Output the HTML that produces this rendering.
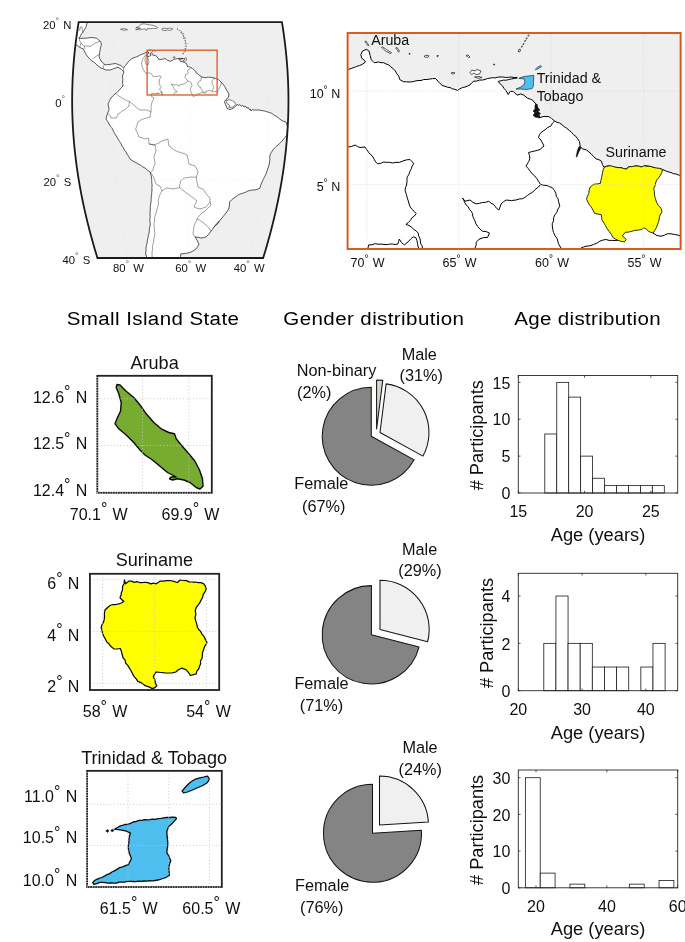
<!DOCTYPE html>
<html><head><meta charset="utf-8"><title>figure</title>
<style>
html,body{margin:0;padding:0;background:#fff;overflow:hidden;}
svg{display:block;font-family:"Liberation Sans", sans-serif;will-change:transform;}
</style></head>
<body>
<svg width="685" height="942" viewBox="0 0 685 942">
<rect width="685" height="942" fill="#fff"/>
<defs><clipPath id="cf"><path d="M78.67,22.04 L78.04,25.97 L77.44,29.91 L76.87,33.84 L76.33,37.77 L75.83,41.71 L75.36,45.64 L74.91,49.57 L74.51,53.50 L74.13,57.44 L73.79,61.37 L73.47,65.30 L73.20,69.24 L72.95,73.17 L72.73,77.10 L72.55,81.03 L72.41,84.97 L72.29,88.90 L72.21,92.83 L72.16,96.77 L72.14,100.70 L72.16,104.63 L72.21,108.57 L72.29,112.50 L72.41,116.43 L72.55,120.37 L72.73,124.30 L72.95,128.23 L73.20,132.16 L73.47,136.10 L73.79,140.03 L74.13,143.96 L74.51,147.90 L74.91,151.83 L75.36,155.76 L75.83,159.69 L76.33,163.63 L76.87,167.56 L77.44,171.49 L78.04,175.43 L78.67,179.36 L79.33,183.29 L80.02,187.23 L80.74,191.16 L81.49,195.09 L82.28,199.02 L83.09,202.96 L83.93,206.89 L84.80,210.82 L85.70,214.76 L86.63,218.69 L87.59,222.62 L88.58,226.56 L89.59,230.49 L90.63,234.42 L91.70,238.36 L92.80,242.29 L93.92,246.22 L95.07,250.15 L96.25,254.09 L97.45,258.02 L263.15,258.02 L264.35,254.09 L265.53,250.15 L266.68,246.22 L267.80,242.29 L268.90,238.36 L269.97,234.42 L271.01,230.49 L272.02,226.56 L273.01,222.62 L273.97,218.69 L274.90,214.76 L275.80,210.82 L276.67,206.89 L277.51,202.96 L278.32,199.02 L279.11,195.09 L279.86,191.16 L280.58,187.23 L281.27,183.29 L281.93,179.36 L282.56,175.43 L283.16,171.49 L283.73,167.56 L284.27,163.63 L284.77,159.69 L285.24,155.76 L285.69,151.83 L286.09,147.90 L286.47,143.96 L286.81,140.03 L287.13,136.10 L287.40,132.16 L287.65,128.23 L287.87,124.30 L288.05,120.37 L288.19,116.43 L288.31,112.50 L288.39,108.57 L288.44,104.63 L288.46,100.70 L288.44,96.77 L288.39,92.83 L288.31,88.90 L288.19,84.97 L288.05,81.03 L287.87,77.10 L287.65,73.17 L287.40,69.24 L287.13,65.30 L286.81,61.37 L286.47,57.44 L286.09,53.50 L285.69,49.57 L285.24,45.64 L284.77,41.71 L284.27,37.77 L283.73,33.84 L283.16,29.91 L282.56,25.97 L281.93,22.04Z"/></clipPath></defs>
<path d="M78.67,22.04 L78.04,25.97 L77.44,29.91 L76.87,33.84 L76.33,37.77 L75.83,41.71 L75.36,45.64 L74.91,49.57 L74.51,53.50 L74.13,57.44 L73.79,61.37 L73.47,65.30 L73.20,69.24 L72.95,73.17 L72.73,77.10 L72.55,81.03 L72.41,84.97 L72.29,88.90 L72.21,92.83 L72.16,96.77 L72.14,100.70 L72.16,104.63 L72.21,108.57 L72.29,112.50 L72.41,116.43 L72.55,120.37 L72.73,124.30 L72.95,128.23 L73.20,132.16 L73.47,136.10 L73.79,140.03 L74.13,143.96 L74.51,147.90 L74.91,151.83 L75.36,155.76 L75.83,159.69 L76.33,163.63 L76.87,167.56 L77.44,171.49 L78.04,175.43 L78.67,179.36 L79.33,183.29 L80.02,187.23 L80.74,191.16 L81.49,195.09 L82.28,199.02 L83.09,202.96 L83.93,206.89 L84.80,210.82 L85.70,214.76 L86.63,218.69 L87.59,222.62 L88.58,226.56 L89.59,230.49 L90.63,234.42 L91.70,238.36 L92.80,242.29 L93.92,246.22 L95.07,250.15 L96.25,254.09 L97.45,258.02 L263.15,258.02 L264.35,254.09 L265.53,250.15 L266.68,246.22 L267.80,242.29 L268.90,238.36 L269.97,234.42 L271.01,230.49 L272.02,226.56 L273.01,222.62 L273.97,218.69 L274.90,214.76 L275.80,210.82 L276.67,206.89 L277.51,202.96 L278.32,199.02 L279.11,195.09 L279.86,191.16 L280.58,187.23 L281.27,183.29 L281.93,179.36 L282.56,175.43 L283.16,171.49 L283.73,167.56 L284.27,163.63 L284.77,159.69 L285.24,155.76 L285.69,151.83 L286.09,147.90 L286.47,143.96 L286.81,140.03 L287.13,136.10 L287.40,132.16 L287.65,128.23 L287.87,124.30 L288.05,120.37 L288.19,116.43 L288.31,112.50 L288.39,108.57 L288.44,104.63 L288.46,100.70 L288.44,96.77 L288.39,92.83 L288.31,88.90 L288.19,84.97 L288.05,81.03 L287.87,77.10 L287.65,73.17 L287.40,69.24 L287.13,65.30 L286.81,61.37 L286.47,57.44 L286.09,53.50 L285.69,49.57 L285.24,45.64 L284.77,41.71 L284.27,37.77 L283.73,33.84 L283.16,29.91 L282.56,25.97 L281.93,22.04Z" fill="#efefef"/>
<g clip-path="url(#cf)">
<path d="M87.5,19.0 L87.1,22.5 L86.5,25.1 L85.8,27.6 L84.2,30.1 L82.7,32.6 L81.2,34.4 L80.2,36.5 L78.9,38.4 L82.1,38.3 L85.2,38.2 L87.7,38.0 L90.2,37.6 L93.4,37.7 L96.5,38.2 L98.4,39.8 L100.3,41.4 L101.5,43.9 L100.9,46.4 L100.2,49.5 L99.7,52.7 L99.0,56.0 L99.8,58.6 L101.0,61.0 L103.2,62.8 L105.0,65.0 L107.5,64.6 L110.0,64.4 L113.0,63.8 L116.0,63.6 L118.4,64.7 L121.0,65.5 L123.6,68.0 L125.0,66.0 L126.6,64.1 L128.0,62.0 L130.3,59.8 L133.0,58.0 L135.4,57.3 L137.8,56.3 L140.0,55.0 L142.5,54.1 L145.0,53.0 L148.0,51.6 L148.8,53.0 L146.6,55.2 L147.6,56.8 L149.3,56.2 L150.5,55.7 L151.1,55.3 L151.0,54.9 L150.4,54.5 L150.2,53.7 L150.6,53.0 L151.4,52.6 L152.0,53.0 L152.1,53.9 L152.4,54.8 L153.0,55.4 L153.9,55.3 L155.0,55.4 L156.0,55.9 L156.9,56.7 L157.6,57.7 L157.8,58.0 L158.0,58.1 L158.2,58.9 L159.0,59.4 L160.2,59.5 L162.1,59.2 L163.9,58.9 L165.7,58.7 L166.3,59.4 L167.1,60.2 L167.7,60.4 L169.3,60.9 L170.3,61.3 L171.4,60.6 L173.0,60.1 L173.8,59.3 L175.6,59.1 L177.2,58.7 L179.8,58.4 L182.8,58.5 L182.9,58.7 L181.1,58.9 L178.9,59.3 L179.8,60.3 L180.5,61.2 L181.0,62.1 L181.4,61.5 L182.1,61.5 L182.9,62.3 L183.7,62.0 L184.3,62.3 L185.1,62.9 L186.2,63.3 L186.8,64.1 L187.2,65.8 L187.7,66.9 L188.6,66.7 L189.6,66.8 L190.8,67.7 L192.4,68.4 L193.9,69.7 L195.3,70.9 L196.1,72.0 L196.2,73.1 L196.7,73.5 L197.7,73.8 L198.6,74.6 L199.7,75.7 L200.8,76.1 L201.4,77.4 L202.5,77.1 L204.3,77.5 L206.2,77.8 L206.5,77.4 L208.7,77.2 L209.3,77.4 L209.9,77.1 L211.8,77.4 L213.8,77.9 L215.6,78.5 L217.2,79.1 L218.2,79.3 L220.0,81.2 L222.0,83.0 L223.5,84.9 L224.9,86.8 L226.0,89.0 L227.5,91.5 L229.0,94.0 L228.4,97.5 L226.0,99.5 L224.4,101.6 L225.5,104.5 L227.0,108.4 L230.0,109.6 L233.0,108.4 L235.8,106.2 L237.0,104.3 L238.6,105.6 L239.8,104.5 L241.2,106.3 L242.6,105.2 L244.0,107.0 L245.6,106.2 L246.8,108.2 L248.4,107.6 L249.4,109.8 L250.4,109.0 L251.0,111.0 L252.4,109.8 L256.0,110.0 L259.0,110.0 L262.0,110.6 L264.4,111.0 L266.7,111.7 L269.0,112.4 L271.5,113.3 L273.7,114.8 L276.0,116.0 L278.5,118.0 L281.0,120.0 L283.4,121.2 L286.0,122.0 L286.8,124.5 L287.6,127.0 L287.3,129.7 L287.2,132.3 L287.0,135.0 L284.9,137.4 L283.0,140.0 L281.4,141.7 L279.8,143.4 L278.0,145.0 L276.1,146.5 L274.5,148.1 L273.0,150.0 L271.3,152.4 L270.0,155.0 L269.7,157.3 L269.8,159.7 L269.6,162.0 L269.0,165.0 L268.0,168.0 L267.1,170.7 L266.2,173.4 L265.0,176.0 L263.9,177.9 L263.1,180.0 L262.0,182.0 L260.8,184.9 L260.0,188.0 L257.0,189.5 L254.8,189.9 L252.5,190.0 L250.2,190.4 L248.0,191.0 L245.4,192.3 L242.7,193.2 L240.0,194.0 L237.9,195.1 L236.0,196.7 L234.0,198.0 L231.6,199.8 L229.6,202.0 L229.4,205.0 L229.0,208.0 L227.7,210.6 L226.0,213.0 L223.9,215.5 L222.0,218.0 L219.9,220.4 L218.0,223.0 L216.1,225.1 L214.0,227.0 L212.7,229.1 L211.0,231.0 L209.0,234.0 L206.0,237.0 L203.5,237.6 L201.0,238.0 L198.0,237.2 L195.0,237.0 L197.0,240.0 L197.9,242.1 L199.0,244.0 L197.7,246.6 L196.0,249.0 L193.6,250.6 L191.0,252.0 L188.7,252.8 L186.4,253.3 L184.0,253.6 L180.6,254.0 L180.6,256.0 L180.0,258.0 L180.0,262.0 L177.6,261.8 L175.3,262.2 L172.9,262.0 L170.6,262.0 L168.2,262.2 L165.9,261.9 L163.5,262.2 L161.1,261.9 L158.8,262.2 L156.4,262.0 L154.1,262.2 L151.7,262.1 L149.4,261.7 L147.0,262.0 L147.0,258.0 L145.6,254.0 L146.0,251.0 L146.0,248.0 L146.4,245.5 L147.2,243.0 L147.3,240.5 L148.0,238.0 L148.3,235.6 L149.0,233.2 L149.3,230.8 L149.4,228.4 L150.0,226.0 L150.3,223.6 L149.8,221.2 L149.9,218.8 L150.2,216.4 L150.0,214.0 L150.1,211.6 L150.3,209.2 L150.3,206.8 L150.6,204.4 L151.0,202.0 L151.2,199.6 L151.2,197.2 L151.7,194.8 L151.7,192.4 L152.0,190.0 L151.9,187.6 L152.1,185.2 L151.8,182.8 L151.7,180.4 L151.6,178.0 L151.0,174.9 L150.0,172.0 L147.4,170.1 L145.0,168.0 L142.6,166.8 L140.5,165.1 L138.0,164.0 L136.1,162.6 L133.9,161.6 L131.9,160.4 L130.0,159.0 L128.6,156.4 L127.0,154.0 L126.0,151.9 L124.3,150.1 L123.5,147.9 L122.0,146.0 L121.0,143.6 L119.6,141.5 L118.2,139.3 L117.0,137.0 L115.5,134.8 L114.1,132.5 L113.0,130.0 L111.9,127.8 L110.2,126.1 L109.0,124.0 L107.6,121.4 L106.0,119.0 L107.0,115.0 L107.9,112.4 L109.0,110.0 L108.7,107.0 L108.0,104.0 L109.1,102.0 L109.9,99.9 L111.0,98.0 L112.9,95.9 L115.0,94.0 L117.1,92.3 L119.0,90.5 L120.8,88.1 L123.0,86.0 L122.7,83.5 L122.7,81.0 L122.8,78.5 L122.4,76.0 L124.0,72.0 L121.5,69.5 L118.0,67.2 L114.0,68.5 L110.0,70.0 L106.0,70.0 L103.5,68.9 L101.0,68.0 L98.9,66.6 L97.0,65.0 L94.7,62.8 L92.0,61.0 L89.9,59.1 L88.0,57.0 L86.4,55.0 L85.2,52.7 L83.3,48.9 L80.7,47.8 L78.3,46.4 L75.8,44.5 L73.2,44.4 L70.6,44.4 L68.0,44.0 L67.8,41.7 L67.9,39.5 L68.0,37.2 L67.8,34.9 L67.9,32.6 L68.2,30.4 L68.3,28.1 L68.1,25.8 L68.1,23.5 L68.1,21.3 L68.0,19.0 L70.4,18.8 L72.9,18.7 L75.3,18.7 L77.8,19.2 L80.2,19.1 L82.6,19.3 L85.1,18.7Z" fill="#fff" stroke="#000" stroke-width="0.65" stroke-linejoin="round"/>
<path d="M120.5,29.2 L124.0,28.6 L127.5,29.6 L124.0,30.4Z" fill="#fff" stroke="#111" stroke-width="0.5"/>
<path d="M135.8,27.6 L139.0,26.6 L141.0,24.2 L144.0,23.8 L147.5,24.6 L152.0,25.2 L155.0,26.0 L157.6,27.6 L156.0,28.6 L153.0,28.2 L150.0,28.8 L147.4,28.4 L146.4,30.6 L145.2,28.8 L142.0,29.2 L139.5,29.8 L135.6,29.6 L138.4,28.6 L140.6,28.2Z" fill="#fff" stroke="#111" stroke-width="0.5"/>
<path d="M162.0,28.9 L164.0,28.2 L167.0,28.6 L169.5,28.2 L172.4,28.4 L172.6,29.4 L170.0,30.4 L167.5,30.0 L165.0,30.6 L162.2,30.0Z" fill="#fff" stroke="#111" stroke-width="0.5"/>
<path d="M183.3,58.6 L184.3,58.3 L186.4,58.1 L186.3,59.1 L186.3,60.4 L186.0,60.9 L184.8,61.1 L183.7,61.0 L182.6,61.0 L183.7,60.5 L184.2,60.1 L184.5,59.5 L184.4,58.8 L183.3,58.7Z" fill="#fff" stroke="#111" stroke-width="0.5"/>
<path d="M226.0,100.6 L230.0,99.7 L234.6,102.0 L235.6,104.4 L233.0,107.0 L229.0,107.4 L229.6,105.0 L227.0,103.6Z" fill="#fff" stroke="#111" stroke-width="0.5"/>
<path d="M173.0,57.5 L173.4,56.9 L174.0,57.2 L174.5,56.8 L175.3,57.2 L175.0,57.8 L174.3,57.9 L173.8,57.6 L173.3,57.9Z" fill="#fff" stroke="#111" stroke-width="0.5"/>
<path d="M176.9,29.0 L177.4,28.5 L177.9,29.0 L177.4,29.5Z" fill="#fff" stroke="#111" stroke-width="0.5"/>
<path d="M179.1,30.6 L179.6,30.1 L180.1,30.6 L179.6,31.1Z" fill="#fff" stroke="#111" stroke-width="0.5"/>
<path d="M180.6,32.2 L181.2,31.6 L181.8,32.2 L181.2,32.8Z" fill="#fff" stroke="#111" stroke-width="0.5"/>
<path d="M181.7,33.8 L182.6,32.9 L183.5,33.8 L182.6,34.7Z" fill="#fff" stroke="#111" stroke-width="0.5"/>
<path d="M183.0,36.0 L183.6,35.4 L184.2,36.0 L183.6,36.6Z" fill="#fff" stroke="#111" stroke-width="0.5"/>
<path d="M183.4,38.2 L184.4,37.2 L185.4,38.2 L184.4,39.2Z" fill="#fff" stroke="#111" stroke-width="0.5"/>
<path d="M184.6,40.8 L185.2,40.2 L185.8,40.8 L185.2,41.4Z" fill="#fff" stroke="#111" stroke-width="0.5"/>
<path d="M184.9,43.4 L185.8,42.5 L186.7,43.4 L185.8,44.3Z" fill="#fff" stroke="#111" stroke-width="0.5"/>
<path d="M185.3,46.2 L185.9,45.6 L186.5,46.2 L185.9,46.8Z" fill="#fff" stroke="#111" stroke-width="0.5"/>
<path d="M184.7,49.0 L185.4,48.3 L186.1,49.0 L185.4,49.7Z" fill="#fff" stroke="#111" stroke-width="0.5"/>
<path d="M184.0,51.6 L184.6,51.0 L185.2,51.6 L184.6,52.2Z" fill="#fff" stroke="#111" stroke-width="0.5"/>
<path d="M182.6,53.6 L183.2,53.0 L183.8,53.6 L183.2,54.2Z" fill="#fff" stroke="#111" stroke-width="0.5"/>
<path d="M149.5,50.0 L150.0,49.5 L150.5,50.0 L150.0,50.5Z" fill="#fff" stroke="#111" stroke-width="0.5"/>
<path d="M151.9,51.0 L152.5,50.4 L153.1,51.0 L152.5,51.6Z" fill="#fff" stroke="#111" stroke-width="0.5"/>
<path d="M154.5,51.2 L155.0,50.7 L155.5,51.2 L155.0,51.7Z" fill="#fff" stroke="#111" stroke-width="0.5"/>
<path d="M146.6,73.2 L147.1,73.2 L148.6,72.7 L149.6,73.3 L150.7,73.2 L152.0,74.8 L153.3,76.7 L154.6,76.3 L156.4,76.5 L158.6,76.2 L160.2,75.8 L161.0,76.7 L160.1,78.3 L159.5,79.6 L159.4,81.2 L159.1,82.4 L159.5,83.9 L160.1,85.8 L161.4,87.2 L159.2,89.5 L160.4,90.1 L161.8,91.3 L162.3,93.5 L162.7,94.5 L162.8,95.1" fill="none" stroke="#2a2a2a" stroke-width="0.45" stroke-linejoin="round"/>
<path d="M162.0,95.1 L162.0,94.5 L161.7,93.5 L161.3,92.2 L160.7,92.1 L159.6,93.1 L158.9,93.8 L158.2,93.3 L157.8,92.5 L157.5,93.6 L155.1,93.7 L152.6,93.5 L151.2,93.8 L151.1,94.5 L151.0,95.1" fill="none" stroke="#2a2a2a" stroke-width="0.45" stroke-linejoin="round"/>
<path d="M173.9,95.1 L173.9,94.4 L174.2,93.3 L175.0,92.5 L176.6,92.2 L177.0,91.3 L175.5,90.9 L174.5,89.8 L173.7,88.3 L173.1,86.7 L172.1,85.4 L171.3,83.9 L171.8,84.6 L172.9,84.3 L174.2,85.1 L175.5,84.8 L176.9,84.6 L178.2,85.6 L179.0,86.4 L179.5,85.1 L180.6,84.3 L181.7,84.4 L182.7,84.3 L184.0,84.1 L185.6,83.0 L186.9,82.0 L187.9,81.1" fill="none" stroke="#2a2a2a" stroke-width="0.45" stroke-linejoin="round"/>
<path d="M190.8,67.7 L190.1,68.7 L188.8,69.5 L187.9,70.1 L187.4,71.2 L188.3,72.3 L188.6,73.0 L187.8,73.7 L186.6,74.0 L185.3,74.3 L185.6,75.6 L184.8,77.2 L186.1,78.8 L187.5,80.4 L187.9,81.1" fill="none" stroke="#2a2a2a" stroke-width="0.45" stroke-linejoin="round"/>
<path d="M187.9,81.1 L189.3,81.3 L190.4,81.7 L191.2,83.0 L191.7,84.6 L192.0,85.6 L190.9,87.5 L190.4,89.3 L190.7,91.2 L191.5,92.5 L191.7,93.5 L192.3,94.4 L192.5,95.1" fill="none" stroke="#2a2a2a" stroke-width="0.45" stroke-linejoin="round"/>
<path d="M196.3,95.1 L196.6,94.4 L197.6,94.1 L199.2,93.7 L200.6,93.0 L201.9,92.6 L203.2,92.8 L204.4,92.8" fill="none" stroke="#2a2a2a" stroke-width="0.45" stroke-linejoin="round"/>
<path d="M211.9,91.3 L212.8,91.8 L213.6,92.0 L214.9,91.4 L216.5,91.6 L217.9,92.0 L218.5,92.0" fill="none" stroke="#2a2a2a" stroke-width="0.45" stroke-linejoin="round"/>
<path d="M213.8,77.9 L213.3,79.1 L212.4,80.5 L212.0,81.9 L212.2,83.3 L212.6,84.8 L213.6,86.0 L213.8,86.8 L213.3,87.7 L213.1,88.8 L212.7,90.0 L211.9,91.3 L211.0,91.0 L210.0,90.2 L208.8,90.7 L207.2,91.0 L206.0,91.1 L205.4,91.9 L206.2,92.7 L205.8,93.1 L204.4,92.8 L203.3,92.2 L202.6,91.0 L201.8,89.7 L201.0,88.5 L200.8,87.4 L199.4,87.1 L199.0,86.2 L198.2,85.1 L197.7,84.2 L198.2,83.0 L198.5,81.6 L199.4,81.0 L200.6,80.8 L200.9,79.6 L201.1,78.5 L201.4,77.4" fill="none" stroke="#2a2a2a" stroke-width="0.45" stroke-linejoin="round"/>
<path d="M146.6,55.2 L145.2,58.0 L145.0,61.0 L146.0,64.5 L148.0,65.0 L149.0,61.5 L148.0,57.8 L146.8,56.6" fill="none" stroke="#2a2a2a" stroke-width="0.45" stroke-linejoin="round"/>
<path d="M147.4,52.3 L145.5,55.0 L143.0,58.5 L142.4,60.8 L141.5,63.0 L142.0,66.1 L143.0,69.0 L145.0,72.5 L147.0,74.3" fill="none" stroke="#2a2a2a" stroke-width="0.45" stroke-linejoin="round"/>
<path d="M151.6,95.3 L151.0,96.0 L154.0,98.0 L153.1,100.0 L152.0,102.0 L151.5,104.5 L151.0,107.0 L151.1,109.5 L151.0,112.0 L150.3,114.5 L150.0,117.0" fill="none" stroke="#2a2a2a" stroke-width="0.45" stroke-linejoin="round"/>
<path d="M116.0,93.5 L118.0,95.6 L120.0,96.7 L122.0,97.9 L124.0,99.0 L126.7,100.5 L129.6,101.6 L131.8,103.3 L133.9,105.1 L136.0,107.0 L137.9,108.6 L140.0,110.0 L142.3,110.0 L144.7,109.9 L147.0,110.0 L149.0,111.0 L151.0,112.0" fill="none" stroke="#2a2a2a" stroke-width="0.45" stroke-linejoin="round"/>
<path d="M129.6,101.6 L129.1,103.8 L129.0,106.0 L126.6,108.1 L124.0,110.0 L121.9,111.1 L120.1,112.8 L118.0,114.0 L116.4,118.0 L113.7,118.0 L111.0,118.0 L109.9,115.6 L108.5,113.5" fill="none" stroke="#2a2a2a" stroke-width="0.45" stroke-linejoin="round"/>
<path d="M150.0,117.0 L147.7,117.7 L145.4,118.4 L143.0,119.0 L140.4,120.3 L138.0,122.0 L137.2,124.3 L136.6,126.7 L135.6,129.0 L136.6,131.7 L138.1,134.2 L139.0,137.0 L142.1,137.8 L145.0,139.0 L148.4,138.0 L148.9,141.0 L149.0,144.0" fill="none" stroke="#2a2a2a" stroke-width="0.45" stroke-linejoin="round"/>
<path d="M149.0,144.0 L152.0,144.5 L155.0,145.0 L155.4,147.5 L156.0,150.0 L155.4,152.7 L154.4,155.3 L154.0,158.0 L154.8,161.0 L155.0,164.0 L153.7,166.9 L153.0,170.0 L150.5,172.5" fill="none" stroke="#2a2a2a" stroke-width="0.45" stroke-linejoin="round"/>
<path d="M149.0,144.0 L152.0,144.5 L155.0,145.0 L157.3,143.6 L159.8,142.5 L162.0,141.0 L165.0,140.0 L168.0,139.0 L168.3,141.3 L168.6,143.7 L169.0,146.0 L171.6,147.9 L174.0,150.0 L176.6,151.1 L179.3,152.2 L182.0,153.0 L184.6,153.8 L187.0,155.0 L187.5,157.3 L188.1,159.5 L188.4,161.8 L189.0,164.0 L192.0,165.1 L195.0,166.0 L196.2,167.9 L197.2,169.9 L198.0,172.0 L197.2,174.5 L196.4,177.0" fill="none" stroke="#2a2a2a" stroke-width="0.45" stroke-linejoin="round"/>
<path d="M196.4,177.0 L193.7,177.2 L191.0,177.0 L188.7,177.4 L186.4,177.8 L184.0,178.0 L182.3,179.5 L180.5,181.0 L180.3,183.2 L179.7,185.4 L179.6,187.6 L177.4,188.0 L175.2,188.4 L173.0,189.0 L170.7,188.4 L168.3,188.3 L166.0,188.0 L164.0,189.5 L162.0,191.0" fill="none" stroke="#2a2a2a" stroke-width="0.45" stroke-linejoin="round"/>
<path d="M150.5,172.5 L152.5,175.1 L154.0,178.0 L154.9,181.0 L156.0,184.0 L157.9,185.2 L160.0,186.0 L161.0,188.5 L162.0,191.0" fill="none" stroke="#2a2a2a" stroke-width="0.45" stroke-linejoin="round"/>
<path d="M162.0,191.0 L160.9,192.9 L159.8,194.9 L159.0,197.0 L158.6,199.2 L158.3,201.5 L158.5,203.8 L158.0,206.0 L157.2,208.5 L156.5,211.0 L155.9,213.5 L155.0,216.0 L154.5,218.5 L154.6,221.0 L154.0,223.5 L154.0,226.0 L154.4,228.7 L154.6,231.3 L155.0,234.0 L154.3,236.5 L153.8,239.0 L153.8,241.6 L153.0,244.0 L152.5,246.7 L152.6,249.4 L152.0,252.0 L152.1,254.7 L152.2,257.3 L152.0,260.0" fill="none" stroke="#2a2a2a" stroke-width="0.45" stroke-linejoin="round"/>
<path d="M179.6,187.6 L181.7,189.5 L184.0,191.0 L186.0,193.0 L188.1,194.2 L190.0,195.7 L192.0,197.0 L194.6,198.9 L197.0,201.0 L195.8,202.9 L194.9,204.9 L194.0,207.0 L196.9,208.2 L200.0,209.0 L203.0,208.0 L206.0,207.0 L208.1,204.6 L210.0,202.0" fill="none" stroke="#2a2a2a" stroke-width="0.45" stroke-linejoin="round"/>
<path d="M196.4,177.0 L196.5,179.5 L197.0,182.0 L197.6,184.5 L198.0,187.0 L200.0,188.0 L202.1,188.8 L204.0,190.0 L205.3,192.6 L207.0,195.0 L210.0,198.0 L210.0,202.0" fill="none" stroke="#2a2a2a" stroke-width="0.45" stroke-linejoin="round"/>
<path d="M210.0,202.0 L211.0,205.0 L209.4,206.7 L207.6,208.3 L206.0,210.0 L204.2,211.9 L201.8,213.1 L200.0,215.0 L198.4,216.9 L197.0,219.0" fill="none" stroke="#2a2a2a" stroke-width="0.45" stroke-linejoin="round"/>
<path d="M197.0,219.0 L199.5,220.1 L201.6,221.7 L204.0,223.0 L205.5,224.9 L207.4,226.3 L209.0,228.0 L211.0,231.0" fill="none" stroke="#2a2a2a" stroke-width="0.45" stroke-linejoin="round"/>
<path d="M197.0,219.0 L196.1,221.4 L195.0,223.7 L194.0,226.0 L193.6,228.7 L193.4,231.3 L193.0,234.0 L195.0,237.0" fill="none" stroke="#2a2a2a" stroke-width="0.45" stroke-linejoin="round"/>
<path d="M192.0,95.0 L193.5,96.8 L196.0,95.0" fill="none" stroke="#2a2a2a" stroke-width="0.45" stroke-linejoin="round"/>
<path d="M221.5,82.5 L220.8,84.8 L220.0,87.0 L218.8,89.0 L217.5,91.0" fill="none" stroke="#2a2a2a" stroke-width="0.45" stroke-linejoin="round"/>
<path d="M68.0,30.0 L70.4,29.9 L72.8,30.3 L75.2,29.8 L77.6,29.9 L80.0,30.0 L80.0,27.0 L82.0,27.0 L82.3,30.0 L82.5,33.0" fill="none" stroke="#2a2a2a" stroke-width="0.45" stroke-linejoin="round"/>
<path d="M79.0,38.6 L79.8,40.9 L81.0,43.0 L80.0,46.8" fill="none" stroke="#2a2a2a" stroke-width="0.45" stroke-linejoin="round"/>
<path d="M81.0,43.0 L84.0,46.0 L85.0,48.8" fill="none" stroke="#2a2a2a" stroke-width="0.45" stroke-linejoin="round"/>
<path d="M84.0,46.0 L87.1,46.0 L90.2,46.4 L92.3,45.1 L94.3,43.7 L96.5,42.6 L100.3,41.4" fill="none" stroke="#2a2a2a" stroke-width="0.45" stroke-linejoin="round"/>
<path d="M99.5,54.0 L97.4,55.6 L95.2,57.0 L93.0,58.5" fill="none" stroke="#2a2a2a" stroke-width="0.45" stroke-linejoin="round"/>
<path d="M104.0,64.2 L103.5,66.6 L103.0,69.0" fill="none" stroke="#2a2a2a" stroke-width="0.45" stroke-linejoin="round"/>
<path d="M123.6,68.0 L123.6,71.8" fill="none" stroke="#2a2a2a" stroke-width="0.45" stroke-linejoin="round"/>
<path d="M214.0,227.0 L216.0,223.5 L219.0,221.0 L218.5,223.0 L215.5,226.0" fill="none" stroke="#2a2a2a" stroke-width="0.45" stroke-linejoin="round"/>
<path d="M115.6,22.0 L115.2,26.0 L114.8,29.9 L114.5,33.8 L114.1,37.8 L113.8,41.7 L113.5,45.6 L113.2,49.6 L113.0,53.5 L112.7,57.4 L112.5,61.4 L112.3,65.3 L112.1,69.2 L112.0,73.2 L111.8,77.1 L111.7,81.0 L111.6,85.0 L111.6,88.9 L111.5,92.8 L111.5,96.8 L111.5,100.7 L111.5,104.6 L111.5,108.6 L111.6,112.5 L111.6,116.4 L111.7,120.4 L111.8,124.3 L112.0,128.2 L112.1,132.2 L112.3,136.1 L112.5,140.0 L112.7,144.0 L113.0,147.9 L113.2,151.8 L113.5,155.8 L113.8,159.7 L114.1,163.6 L114.5,167.6 L114.8,171.5 L115.2,175.4 L115.6,179.4 L116.0,183.3 L116.5,187.2 L116.9,191.2 L117.4,195.1 L117.9,199.0 L118.4,203.0 L119.0,206.9 L119.5,210.8 L120.1,214.8 L120.7,218.7 L121.3,222.6 L121.9,226.6 L122.6,230.5 L123.2,234.4 L123.9,238.4 L124.6,242.3 L125.3,246.2 L126.1,250.2 L126.8,254.1 L127.6,258.0" fill="none" stroke="#dedede" stroke-width="0.45" stroke-dasharray="0.6 1.6"/>
<path d="M189.5,22.0 L189.6,26.0 L189.7,29.9 L189.7,33.8 L189.8,37.8 L189.8,41.7 L189.8,45.6 L189.9,49.6 L189.9,53.5 L190.0,57.4 L190.0,61.4 L190.0,65.3 L190.0,69.2 L190.1,73.2 L190.1,77.1 L190.1,81.0 L190.1,85.0 L190.1,88.9 L190.1,92.8 L190.1,96.8 L190.1,100.7 L190.1,104.6 L190.1,108.6 L190.1,112.5 L190.1,116.4 L190.1,120.4 L190.1,124.3 L190.1,128.2 L190.0,132.2 L190.0,136.1 L190.0,140.0 L190.0,144.0 L189.9,147.9 L189.9,151.8 L189.8,155.8 L189.8,159.7 L189.8,163.6 L189.7,167.6 L189.7,171.5 L189.6,175.4 L189.5,179.4 L189.5,183.3 L189.4,187.2 L189.4,191.2 L189.3,195.1 L189.2,199.0 L189.1,203.0 L189.1,206.9 L189.0,210.8 L188.9,214.8 L188.8,218.7 L188.7,222.6 L188.6,226.6 L188.5,230.5 L188.5,234.4 L188.4,238.4 L188.3,242.3 L188.2,246.2 L188.0,250.2 L187.9,254.1 L187.8,258.0" fill="none" stroke="#dedede" stroke-width="0.45" stroke-dasharray="0.6 1.6"/>
<path d="M263.5,22.0 L264.0,26.0 L264.5,29.9 L264.9,33.8 L265.4,37.8 L265.8,41.7 L266.2,45.6 L266.5,49.6 L266.9,53.5 L267.2,57.4 L267.4,61.4 L267.7,65.3 L267.9,69.2 L268.1,73.2 L268.3,77.1 L268.5,81.0 L268.6,85.0 L268.7,88.9 L268.7,92.8 L268.8,96.8 L268.8,100.7 L268.8,104.6 L268.7,108.6 L268.7,112.5 L268.6,116.4 L268.5,120.4 L268.3,124.3 L268.1,128.2 L267.9,132.2 L267.7,136.1 L267.4,140.0 L267.2,144.0 L266.9,147.9 L266.5,151.8 L266.2,155.8 L265.8,159.7 L265.4,163.6 L264.9,167.6 L264.5,171.5 L264.0,175.4 L263.5,179.4 L262.9,183.3 L262.3,187.2 L261.8,191.2 L261.1,195.1 L260.5,199.0 L259.8,203.0 L259.1,206.9 L258.4,210.8 L257.7,214.8 L256.9,218.7 L256.2,222.6 L255.3,226.6 L254.5,230.5 L253.7,234.4 L252.8,238.4 L251.9,242.3 L251.0,246.2 L250.0,250.2 L249.1,254.1 L248.1,258.0" fill="none" stroke="#dedede" stroke-width="0.45" stroke-dasharray="0.6 1.6"/>
<path d="M72.1,100.7 L288.5,100.7" fill="none" stroke="#dedede" stroke-width="0.45" stroke-dasharray="0.6 1.6"/>
<path d="M78.7,179.4 L281.9,179.4" fill="none" stroke="#dedede" stroke-width="0.45" stroke-dasharray="0.6 1.6"/>
</g>
<rect x="147.1" y="50.2" width="70" height="44.8" fill="none" stroke="#D95319" stroke-width="1.25"/>
<path d="M78.67,22.04 L78.04,25.97 L77.44,29.91 L76.87,33.84 L76.33,37.77 L75.83,41.71 L75.36,45.64 L74.91,49.57 L74.51,53.50 L74.13,57.44 L73.79,61.37 L73.47,65.30 L73.20,69.24 L72.95,73.17 L72.73,77.10 L72.55,81.03 L72.41,84.97 L72.29,88.90 L72.21,92.83 L72.16,96.77 L72.14,100.70 L72.16,104.63 L72.21,108.57 L72.29,112.50 L72.41,116.43 L72.55,120.37 L72.73,124.30 L72.95,128.23 L73.20,132.16 L73.47,136.10 L73.79,140.03 L74.13,143.96 L74.51,147.90 L74.91,151.83 L75.36,155.76 L75.83,159.69 L76.33,163.63 L76.87,167.56 L77.44,171.49 L78.04,175.43 L78.67,179.36 L79.33,183.29 L80.02,187.23 L80.74,191.16 L81.49,195.09 L82.28,199.02 L83.09,202.96 L83.93,206.89 L84.80,210.82 L85.70,214.76 L86.63,218.69 L87.59,222.62 L88.58,226.56 L89.59,230.49 L90.63,234.42 L91.70,238.36 L92.80,242.29 L93.92,246.22 L95.07,250.15 L96.25,254.09 L97.45,258.02 L263.15,258.02 L264.35,254.09 L265.53,250.15 L266.68,246.22 L267.80,242.29 L268.90,238.36 L269.97,234.42 L271.01,230.49 L272.02,226.56 L273.01,222.62 L273.97,218.69 L274.90,214.76 L275.80,210.82 L276.67,206.89 L277.51,202.96 L278.32,199.02 L279.11,195.09 L279.86,191.16 L280.58,187.23 L281.27,183.29 L281.93,179.36 L282.56,175.43 L283.16,171.49 L283.73,167.56 L284.27,163.63 L284.77,159.69 L285.24,155.76 L285.69,151.83 L286.09,147.90 L286.47,143.96 L286.81,140.03 L287.13,136.10 L287.40,132.16 L287.65,128.23 L287.87,124.30 L288.05,120.37 L288.19,116.43 L288.31,112.50 L288.39,108.57 L288.44,104.63 L288.46,100.70 L288.44,96.77 L288.39,92.83 L288.31,88.90 L288.19,84.97 L288.05,81.03 L287.87,77.10 L287.65,73.17 L287.40,69.24 L287.13,65.30 L286.81,61.37 L286.47,57.44 L286.09,53.50 L285.69,49.57 L285.24,45.64 L284.77,41.71 L284.27,37.77 L283.73,33.84 L283.16,29.91 L282.56,25.97 L281.93,22.04Z" fill="none" stroke="#1a1a1a" stroke-width="1.8" stroke-linejoin="miter"/>
<text x="43" y="28.6" font-size="11.3" text-anchor="start" fill="#101010">20<tspan dy="-5.0" font-size="9.0" fill="#555">°</tspan><tspan dy="5.0" dx="1.00"> N</tspan></text>
<text x="55.3" y="106.5" font-size="11.3" text-anchor="start" fill="#101010">0<tspan dy="-5.0" font-size="9.0" fill="#555">°</tspan><tspan dy="5.0" dx="1.00"> </tspan></text>
<text x="43.5" y="185.5" font-size="11.3" text-anchor="start" fill="#101010">20<tspan dy="-5.0" font-size="9.0" fill="#555">°</tspan><tspan dy="5.0" dx="1.00"> S</tspan></text>
<text x="62.5" y="264.4" font-size="11.3" text-anchor="start" fill="#101010">40<tspan dy="-5.0" font-size="9.0" fill="#555">°</tspan><tspan dy="5.0" dx="1.00"> S</tspan></text>
<text x="128.5" y="272.4" font-size="11.3" text-anchor="middle" fill="#101010">80<tspan dy="-5.0" font-size="9.0" fill="#555">°</tspan><tspan dy="5.0" dx="1.00"> W</tspan></text>
<text x="190.7" y="272.4" font-size="11.3" text-anchor="middle" fill="#101010">60<tspan dy="-5.0" font-size="9.0" fill="#555">°</tspan><tspan dy="5.0" dx="1.00"> W</tspan></text>
<text x="249.2" y="272.4" font-size="11.3" text-anchor="middle" fill="#101010">40<tspan dy="-5.0" font-size="9.0" fill="#555">°</tspan><tspan dy="5.0" dx="1.00"> W</tspan></text>
<defs><clipPath id="ci"><rect x="347.6" y="33.0" width="333.0" height="216.0"/></clipPath></defs>
<rect x="347.6" y="33.0" width="333.0" height="216.0" fill="#fff"/>
<g clip-path="url(#ci)">
<path d="M345.6,31.0 L346.0,70.0 L348.6,69.3 L351.3,68.4 L354.1,67.5 L356.7,66.4 L359.7,65.5 L362.5,64.2 L365.4,62.0 L364.7,60.5 L361.8,58.4 L360.8,54.7 L362.5,51.1 L366.2,49.3 L369.1,51.1 L370.1,55.4 L371.3,59.8 L374.2,62.7 L378.6,62.0 L381.1,62.7 L383.7,62.7 L386.2,64.0 L388.8,64.9 L390.8,67.0 L393.2,68.6 L395.3,70.9 L396.8,73.7 L397.6,75.0 L398.6,75.6 L399.7,79.5 L403.4,81.7 L406.3,81.8 L409.2,82.0 L412.2,81.8 L415.1,81.1 L418.0,80.5 L421.0,80.5 L423.8,79.5 L426.8,79.5 L429.7,79.1 L432.6,78.6 L435.5,78.5 L438.4,81.7 L440.2,83.6 L442.1,85.4 L445.0,86.4 L447.5,87.2 L450.1,87.6 L452.5,88.8 L455.1,89.4 L457.5,90.5 L459.9,88.8 L462.5,87.5 L465.1,87.0 L467.6,86.0 L470.0,85.0 L471.7,82.9 L473.8,81.2 L476.7,81.1 L479.5,80.1 L482.5,80.0 L485.0,79.5 L487.4,78.5 L490.0,78.2 L492.5,77.6 L495.0,78.0 L497.5,77.2 L500.0,77.0 L502.5,77.0 L505.4,77.4 L508.3,77.4 L511.2,77.0 L514.1,77.6 L517.0,77.3 L517.2,78.1 L514.4,78.5 L511.6,78.9 L508.8,79.5 L506.2,80.2 L503.4,80.1 L500.8,80.8 L498.2,81.4 L500.1,83.9 L502.5,85.8 L503.8,88.2 L505.7,90.2 L508.2,94.5 L510.1,91.4 L513.2,91.4 L515.2,93.2 L517.0,95.2 L520.8,93.9 L523.9,95.2 L527.7,98.3 L530.2,99.1 L532.7,100.2 L535.8,104.0 L536.6,106.6 L537.2,109.3 L537.5,112.0 L538.9,114.6 L539.8,117.5 L544.0,116.4 L548.8,116.6 L551.8,118.7 L554.6,121.0 L557.0,122.3 L559.6,123.0 L561.9,124.6 L564.2,126.6 L566.8,128.4 L569.2,130.4 L571.5,132.3 L573.4,134.5 L575.8,136.3 L577.6,138.8 L579.4,141.4 L579.9,143.9 L580.1,146.5 L582.3,148.7 L586.7,150.1 L588.9,151.9 L591.1,153.8 L593.5,156.5 L596.2,158.9 L598.9,159.7 L601.3,161.1 L602.4,164.4 L604.1,167.3 L606.5,166.2 L609.2,165.8 L612.1,166.6 L615.0,167.3 L618.0,167.6 L621.0,167.7 L623.8,168.8 L626.7,169.1 L628.2,167.0 L630.7,166.7 L633.3,166.6 L635.8,165.9 L638.4,166.1 L641.3,167.0 L644.2,165.8 L647.2,165.9 L650.1,166.5 L653.0,167.3 L656.1,168.4 L659.4,168.5 L662.5,169.5 L665.3,170.7 L668.1,171.8 L671.0,172.5 L673.4,173.7 L676.0,174.0 L678.5,175.0 L683.0,176.2 L682.6,176.2 L682.6,31.0Z" fill="#efefef" stroke="none"/>
<path d="M346.0,70.0 L348.6,69.3 L351.3,68.4 L354.1,67.5 L356.7,66.4 L359.7,65.5 L362.5,64.2 L365.4,62.0 L364.7,60.5 L361.8,58.4 L360.8,54.7 L362.5,51.1 L366.2,49.3 L369.1,51.1 L370.1,55.4 L371.3,59.8 L374.2,62.7 L378.6,62.0 L381.1,62.7 L383.7,62.7 L386.2,64.0 L388.8,64.9 L390.8,67.0 L393.2,68.6 L395.3,70.9 L396.8,73.7 L397.6,75.0 L398.6,75.6 L399.7,79.5 L403.4,81.7 L406.3,81.8 L409.2,82.0 L412.2,81.8 L415.1,81.1 L418.0,80.5 L421.0,80.5 L423.8,79.5 L426.8,79.5 L429.7,79.1 L432.6,78.6 L435.5,78.5 L438.4,81.7 L440.2,83.6 L442.1,85.4 L445.0,86.4 L447.5,87.2 L450.1,87.6 L452.5,88.8 L455.1,89.4 L457.5,90.5 L459.9,88.8 L462.5,87.5 L465.1,87.0 L467.6,86.0 L470.0,85.0 L471.7,82.9 L473.8,81.2 L476.7,81.1 L479.5,80.1 L482.5,80.0 L485.0,79.5 L487.4,78.5 L490.0,78.2 L492.5,77.6 L495.0,78.0 L497.5,77.2 L500.0,77.0 L502.5,77.0 L505.4,77.4 L508.3,77.4 L511.2,77.0 L514.1,77.6 L517.0,77.3 L517.2,78.1 L514.4,78.5 L511.6,78.9 L508.8,79.5 L506.2,80.2 L503.4,80.1 L500.8,80.8 L498.2,81.4 L500.1,83.9 L502.5,85.8 L503.8,88.2 L505.7,90.2 L508.2,94.5 L510.1,91.4 L513.2,91.4 L515.2,93.2 L517.0,95.2 L520.8,93.9 L523.9,95.2 L527.7,98.3 L530.2,99.1 L532.7,100.2 L535.8,104.0 L536.6,106.6 L537.2,109.3 L537.5,112.0 L538.9,114.6 L539.8,117.5 L544.0,116.4 L548.8,116.6 L551.8,118.7 L554.6,121.0 L557.0,122.3 L559.6,123.0 L561.9,124.6 L564.2,126.6 L566.8,128.4 L569.2,130.4 L571.5,132.3 L573.4,134.5 L575.8,136.3 L577.6,138.8 L579.4,141.4 L579.9,143.9 L580.1,146.5 L582.3,148.7 L586.7,150.1 L588.9,151.9 L591.1,153.8 L593.5,156.5 L596.2,158.9 L598.9,159.7 L601.3,161.1 L602.4,164.4 L604.1,167.3 L606.5,166.2 L609.2,165.8 L612.1,166.6 L615.0,167.3 L618.0,167.6 L621.0,167.7 L623.8,168.8 L626.7,169.1 L628.2,167.0 L630.7,166.7 L633.3,166.6 L635.8,165.9 L638.4,166.1 L641.3,167.0 L644.2,165.8 L647.2,165.9 L650.1,166.5 L653.0,167.3 L656.1,168.4 L659.4,168.5 L662.5,169.5 L665.3,170.7 L668.1,171.8 L671.0,172.5 L673.4,173.7 L676.0,174.0 L678.5,175.0 L683.0,176.2" fill="none" stroke="#000" stroke-width="1.0" stroke-linejoin="round"/>
<path d="M381.4,47.3 L382.6,46.8 L386.5,49.6 L391.4,52.7 L390.8,53.6 L386.0,51.4Z" fill="#fff" stroke="#111" stroke-width="0.7"/>
<path d="M395.5,48.0 L397.0,47.5 L399.5,51.0 L398.5,52.2 L397.5,50.0Z" fill="#fff" stroke="#111" stroke-width="0.7"/>
<path d="M409.0,53.4 L410.0,53.4 L410.0,54.2 L409.0,54.2Z" fill="#fff" stroke="#111" stroke-width="0.7"/>
<path d="M424.0,56.5 L426.0,55.2 L429.0,55.8 L428.0,57.3 L425.5,57.2Z" fill="#fff" stroke="#111" stroke-width="0.7"/>
<path d="M437.0,55.6 L438.3,55.4 L438.0,56.6 L437.0,56.6Z" fill="#fff" stroke="#111" stroke-width="0.7"/>
<path d="M466.0,55.5 L468.0,55.0 L470.0,57.0 L468.5,57.5Z" fill="#fff" stroke="#111" stroke-width="0.7"/>
<path d="M493.6,64.1 L494.6,64.1 L494.6,65.0 L493.6,65.0Z" fill="#fff" stroke="#111" stroke-width="0.7"/>
<path d="M451.0,73.0 L453.0,72.3 L455.0,73.0 L453.0,74.2Z" fill="#fff" stroke="#111" stroke-width="0.7"/>
<path d="M470.0,72.5 L472.0,70.0 L475.0,71.0 L477.0,69.5 L481.0,71.0 L479.5,74.0 L476.0,74.5 L474.0,73.0 L471.5,74.5Z" fill="#fff" stroke="#111" stroke-width="0.7"/>
<path d="M474.5,77.0 L479.0,76.5 L482.0,77.5 L478.0,78.3Z" fill="#fff" stroke="#111" stroke-width="0.7"/>
<path d="M518.0,51.5 L519.0,49.3 L520.5,49.5 L519.8,52.0Z" fill="#fff" stroke="#111" stroke-width="0.7"/>
<path d="M521.2,46.9 L522.0,45.8 L522.5,46.3 L521.7,47.4Z" fill="#fff" stroke="#111" stroke-width="0.7"/>
<path d="M522.8,44.3 L523.6,43.2 L524.1,43.7 L523.3,44.8Z" fill="#fff" stroke="#111" stroke-width="0.7"/>
<path d="M524.4,41.4 L525.2,40.2 L525.7,40.7 L524.9,41.9Z" fill="#fff" stroke="#111" stroke-width="0.7"/>
<path d="M526.0,38.8 L526.8,37.6 L527.3,38.1 L526.5,39.3Z" fill="#fff" stroke="#111" stroke-width="0.7"/>
<path d="M527.8,35.9 L528.6,34.7 L529.1,35.2 L528.3,36.4Z" fill="#fff" stroke="#111" stroke-width="0.7"/>
<path d="M535.0,105.0 L537.0,104.0 L538.0,108.0 L540.0,110.0 L538.0,111.0 L540.5,114.0 L538.0,114.5 L540.0,118.0 L535.0,117.0 L533.0,115.0 L535.0,113.0 L533.0,111.0 L535.0,109.0Z" fill="#111" stroke="#111" stroke-width="0.6"/>
<path d="M579.0,146.6 L581.2,147.6 L578.8,152.0 L576.9,157.0 L576.2,156.8 L577.4,150.5Z" fill="#111" stroke="#111" stroke-width="0.6"/>
<path d="M601.8,179.4 L602.8,179.6 L602.8,180.6 L601.8,180.4Z" fill="#111" stroke="#111" stroke-width="0.6"/>
<path d="M346.0,147.3 L348.2,147.0 L351.8,146.4 L355.0,145.0 L357.4,146.4 L360.0,147.5 L365.0,147.0 L366.9,149.8 L368.8,152.6 L371.2,155.0 L373.0,157.0 L374.3,159.5 L375.6,161.8 L377.5,163.8 L380.7,163.3 L383.8,162.0 L386.7,162.4 L389.6,162.3 L392.5,163.0 L395.8,162.3 L399.3,162.4 L402.5,161.2 L406.2,159.9 L410.0,159.5 L412.0,161.5 L413.8,163.8 L412.1,166.0 L411.3,168.8 L410.0,171.2 L408.8,174.5 L407.0,177.5 L407.0,181.3 L406.6,185.0 L405.4,187.8 L405.1,190.8 L406.4,194.4 L407.3,198.1 L408.3,201.0 L409.1,204.0 L410.2,206.9 L411.9,209.3 L414.1,211.3 L416.1,213.5 L414.4,216.0 L412.0,217.8 L410.4,220.4 L408.3,222.5 L405.9,224.4 L409.0,225.5 L411.7,227.3 L413.8,229.4 L416.3,231.1 L418.3,233.2 L418.6,235.8 L419.8,238.2 L420.4,240.8 L420.5,243.4 L422.0,245.8 L422.6,248.5 L423.0,251.0" fill="none" stroke="#000" stroke-width="1.0" stroke-linejoin="round"/>
<path d="M419.3,251.0 L419.0,248.5 L417.9,246.1 L417.5,243.4 L416.9,240.4 L415.8,237.6 L413.2,236.8 L410.5,239.2 L408.0,241.9 L404.4,244.9 L401.5,242.7 L399.3,239.0 L398.6,241.6 L397.8,244.1 L395.1,244.5 L392.3,244.0 L389.6,244.1 L386.9,244.6 L384.0,244.4 L381.1,244.1 L378.1,244.2 L375.2,243.7 L372.0,244.8 L368.6,244.9 L367.9,248.5 L367.8,251.0" fill="none" stroke="#000" stroke-width="1.0" stroke-linejoin="round"/>
<path d="M475.0,251.0 L475.0,248.0 L476.1,245.4 L476.2,242.5 L477.8,240.3 L480.0,238.8 L483.7,237.6 L487.5,237.5 L489.5,233.0 L486.1,231.6 L482.5,231.2 L479.8,229.0 L477.5,226.2 L475.9,223.9 L475.1,221.2 L473.8,218.8 L472.8,216.3 L472.5,213.6 L471.2,211.2 L469.4,209.4 L468.3,206.8 L466.2,205.0 L464.8,202.8 L463.8,200.3 L462.5,198.0 L465.0,201.2 L470.0,200.0 L472.9,202.3 L476.2,203.8 L479.4,203.3 L482.5,202.5 L485.7,202.3 L488.8,201.2 L490.7,203.1 L493.2,204.2 L495.0,206.2 L496.6,208.4 L498.8,210.0 L500.1,206.9 L501.2,203.8 L503.6,201.7 L506.2,200.0 L511.2,200.6 L516.0,200.0 L519.1,199.0 L522.2,198.8 L525.0,197.4 L527.3,195.5 L529.8,193.8 L532.1,192.5 L534.1,190.7 L536.0,188.8 L538.6,187.0 L540.5,184.5" fill="none" stroke="#000" stroke-width="1.0" stroke-linejoin="round"/>
<path d="M554.6,121.0 L552.4,123.2 L551.0,126.0 L547.8,127.4 L545.1,129.7 L541.0,132.5 L539.4,134.8 L538.5,137.5 L540.9,140.0 L542.5,143.0 L544.0,146.0 L541.9,147.7 L540.0,149.5 L537.4,150.3 L534.8,151.0 L531.6,151.7 L528.5,152.5 L529.5,155.5 L529.8,158.8 L528.8,161.4 L527.3,163.8 L526.0,166.2 L528.3,168.6 L530.2,171.2 L532.2,173.8 L534.7,175.9 L536.8,178.5 L538.5,181.2 L540.5,184.5" fill="none" stroke="#000" stroke-width="1.0" stroke-linejoin="round"/>
<path d="M540.5,184.5 L543.8,185.2 L547.2,185.5 L549.6,186.8 L552.2,187.5 L554.4,190.4 L556.0,193.8 L556.3,196.4 L558.0,198.6 L558.5,201.2 L559.8,206.2 L557.9,209.1 L556.8,212.3 L554.8,215.0 L553.6,217.8 L553.5,220.9 L552.2,223.8 L552.4,226.7 L552.8,229.6 L553.5,232.5 L555.1,235.8 L557.2,238.8 L558.5,243.8 L561.0,248.0 L562.0,251.0" fill="none" stroke="#000" stroke-width="1.0" stroke-linejoin="round"/>
<path d="M580.0,251.0 L581.0,248.0 L583.5,247.0 L586.0,246.2 L589.9,245.8 L593.5,244.5 L596.8,243.2 L599.8,241.2 L602.8,240.1 L606.0,239.5 L609.1,240.4 L612.2,240.4 L615.1,240.5 L618.0,240.3" fill="none" stroke="#000" stroke-width="1.0" stroke-linejoin="round"/>
<path d="M653.0,233.0 L657.0,235.6 L661.0,236.2 L664.2,235.3 L667.2,233.8 L671.0,233.8 L674.8,234.5 L678.0,235.1 L681.0,236.2 L684.0,236.5" fill="none" stroke="#000" stroke-width="1.0" stroke-linejoin="round"/>
<path d="M604.1,167.3 L606.6,166.4 L609.2,165.8 L612.2,166.1 L615.0,167.1 L618.0,167.6 L621.0,167.7 L623.8,168.6 L626.7,169.1 L628.2,167.0 L631.6,166.6 L635.0,166.0 L638.4,166.1 L641.3,167.0 L644.2,165.8 L647.1,166.3 L650.1,166.3 L653.0,167.3 L656.2,168.0 L659.4,168.3 L662.5,169.5 L661.8,172.5 L660.3,175.3 L658.9,177.5 L657.1,179.5 L655.9,181.9 L655.2,185.3 L653.7,188.5 L654.4,191.7 L654.5,195.0 L655.4,198.7 L656.6,202.3 L658.4,205.5 L661.0,208.2 L662.0,211.8 L659.6,216.2 L658.8,221.3 L657.6,224.2 L656.6,227.2 L654.9,230.2 L653.0,233.0 L648.6,231.5 L646.7,229.3 L644.2,227.9 L641.5,229.4 L638.4,230.1 L634.7,230.4 L631.1,231.5 L628.2,232.1 L625.3,232.3 L622.3,235.9 L624.4,237.5 L626.0,239.6 L624.5,241.8 L621.2,241.4 L618.0,240.3 L615.3,239.0 L612.8,237.4 L611.3,234.3 L609.2,231.5 L607.1,228.8 L605.5,225.7 L603.8,222.8 L601.9,219.9 L601.7,217.3 L601.2,214.7 L597.9,214.1 L594.6,213.3 L592.4,208.9 L590.6,206.3 L588.8,203.8 L586.6,199.4 L587.3,196.3 L588.8,193.6 L589.1,190.2 L590.2,187.0 L592.2,185.3 L594.6,184.1 L597.5,183.9 L600.4,183.4 L600.9,180.4 L601.6,177.5 L602.6,172.4 L603.2,169.8Z" fill="#ffff00" stroke="#111" stroke-width="0.9" stroke-linejoin="round"/>
<path d="M519.1,78.0 L523.9,76.6 L533.9,75.3 L533.6,80.1 L533.3,86.4 L532.1,88.6 L526.4,89.5 L520.8,89.1 L516.0,89.1 L520.8,87.0 L523.6,85.1 L524.9,82.0 L524.2,78.9 L519.1,78.5Z" fill="#4DBEEE" stroke="#111" stroke-width="0.6" stroke-linejoin="round"/>
<path d="M535.2,69.4 L537.7,66.9 L540.8,65.6 L541.8,66.6 L539.0,68.3 L535.8,69.9Z" fill="#4DBEEE" stroke="#111" stroke-width="0.5" stroke-linejoin="round"/>
<path d="M364.7,41.4 L365.8,40.9 L369.0,45.2 L368.2,46.0Z" fill="#77AC30" stroke="#222" stroke-width="0.5" stroke-linejoin="round"/>
<line x1="366.7" y1="33.0" x2="366.7" y2="249.0" stroke="#cfcfcf" stroke-width="0.7" stroke-dasharray="0.8 1.7"/>
<line x1="458.8" y1="33.0" x2="458.8" y2="249.0" stroke="#cfcfcf" stroke-width="0.7" stroke-dasharray="0.8 1.7"/>
<line x1="551.0" y1="33.0" x2="551.0" y2="249.0" stroke="#cfcfcf" stroke-width="0.7" stroke-dasharray="0.8 1.7"/>
<line x1="643.5" y1="33.0" x2="643.5" y2="249.0" stroke="#cfcfcf" stroke-width="0.7" stroke-dasharray="0.8 1.7"/>
<line x1="347.6" y1="91.0" x2="680.6" y2="91.0" stroke="#cfcfcf" stroke-width="0.7" stroke-dasharray="0.8 1.7"/>
<line x1="347.6" y1="184.5" x2="680.6" y2="184.5" stroke="#cfcfcf" stroke-width="0.7" stroke-dasharray="0.8 1.7"/>
</g>
<rect x="347.6" y="33.0" width="333.0" height="216.0" fill="none" stroke="#D95319" stroke-width="1.9"/>
<text x="371.2" y="45.2" font-size="14.25" text-anchor="start" fill="#101010" >Aruba</text>
<text x="536.7" y="82.5" font-size="14.25" text-anchor="start" fill="#101010" >Trinidad &amp;</text>
<text x="536.7" y="100.8" font-size="14.25" text-anchor="start" fill="#101010" >Tobago</text>
<text x="605.5" y="157.2" font-size="14.25" text-anchor="start" fill="#101010" >Suriname</text>
<text x="340.2" y="97.6" font-size="12.5" text-anchor="end" fill="#101010">10<tspan dy="-5.0" font-size="10.0">°</tspan><tspan dy="5.0" dx="0.10"> N</tspan></text>
<text x="340.2" y="191.2" font-size="12.5" text-anchor="end" fill="#101010">5<tspan dy="-5.0" font-size="10.0">°</tspan><tspan dy="5.0" dx="0.10"> N</tspan></text>
<text x="367.5" y="267.0" font-size="12.5" text-anchor="middle" fill="#101010">70<tspan dy="-5.0" font-size="10.0">°</tspan><tspan dy="5.0" dx="0.70"> W</tspan></text>
<text x="459.5" y="267.0" font-size="12.5" text-anchor="middle" fill="#101010">65<tspan dy="-5.0" font-size="10.0">°</tspan><tspan dy="5.0" dx="0.70"> W</tspan></text>
<text x="552" y="267.0" font-size="12.5" text-anchor="middle" fill="#101010">60<tspan dy="-5.0" font-size="10.0">°</tspan><tspan dy="5.0" dx="0.70"> W</tspan></text>
<text x="644.5" y="267.0" font-size="12.5" text-anchor="middle" fill="#101010">55<tspan dy="-5.0" font-size="10.0">°</tspan><tspan dy="5.0" dx="0.70"> W</tspan></text>
<text transform="translate(66.7,325) scale(1.07,1)" x="0" y="0" font-size="19.2" fill="#000" textLength="161.0" lengthAdjust="spacing">Small Island State</text>
<text transform="translate(283.3,325) scale(1.07,1)" x="0" y="0" font-size="19.2" fill="#000" textLength="168.9" lengthAdjust="spacing">Gender distribution</text>
<text transform="translate(514.3,325) scale(1.07,1)" x="0" y="0" font-size="19.2" fill="#000" textLength="136.8" lengthAdjust="spacing">Age distribution</text>
<rect x="97.3" y="375.8" width="114.50000000000001" height="117.0" fill="#fff"/>
<path d="M117.0,384.5 L120.0,385.0 L126.2,391.2 L133.8,397.5 L140.0,405.0 L146.2,413.8 L153.8,422.5 L161.2,428.8 L168.8,432.5 L174.5,433.8 L176.2,438.8 L181.2,445.0 L188.8,453.8 L195.0,461.2 L199.5,470.0 L202.5,478.8 L203.0,486.2 L200.0,489.0 L196.2,487.5 L190.0,482.5 L183.8,480.0 L177.5,478.8 L172.5,480.0 L169.5,478.8 L171.2,477.0 L176.2,477.0 L167.5,472.5 L160.0,466.2 L152.5,460.0 L145.0,455.0 L140.0,450.0 L133.8,442.5 L126.2,435.0 L118.8,428.8 L115.0,423.8 L117.5,417.5 L120.5,411.2 L121.2,402.5 L118.8,393.8 L116.2,387.5Z" fill="#77AC30" stroke="#0a0a0a" stroke-width="1.4" stroke-linejoin="round"/>
<line x1="142.5" y1="375.8" x2="142.5" y2="492.8" stroke="#c6c6c6" stroke-width="0.9" stroke-dasharray="1 2.3"/>
<line x1="188.75" y1="375.8" x2="188.75" y2="492.8" stroke="#c6c6c6" stroke-width="0.9" stroke-dasharray="1 2.3"/>
<line x1="97.3" y1="398.75" x2="211.8" y2="398.75" stroke="#c6c6c6" stroke-width="0.9" stroke-dasharray="1 2.3"/>
<line x1="97.3" y1="445.5" x2="211.8" y2="445.5" stroke="#c6c6c6" stroke-width="0.9" stroke-dasharray="1 2.3"/>
<rect x="97.3" y="375.8" width="114.50000000000001" height="117.0" fill="none" stroke="#222" stroke-width="1.8"/>
<line x1="97.3" y1="377.3" x2="97.3" y2="492.8" stroke="#fff" stroke-opacity="0.75" stroke-width="2.2" stroke-dasharray="0.6 1.9"/>
<line x1="97.3" y1="492.8" x2="210.3" y2="492.8" stroke="#fff" stroke-opacity="0.75" stroke-width="2.2" stroke-dasharray="0.6 1.9"/>
<text x="154.6" y="368.8" font-size="18.1" text-anchor="middle" fill="#111" >Aruba</text>
<text x="87.3" y="402.6" font-size="16" text-anchor="end" fill="#101010">12.6<tspan dy="-5.3" font-size="16.0">°</tspan><tspan dy="5.3" dx="0.80"> N</tspan></text>
<text x="87.3" y="449.3" font-size="16" text-anchor="end" fill="#101010">12.5<tspan dy="-5.3" font-size="16.0">°</tspan><tspan dy="5.3" dx="0.80"> N</tspan></text>
<text x="87.3" y="495.6" font-size="16" text-anchor="end" fill="#101010">12.4<tspan dy="-5.3" font-size="16.0">°</tspan><tspan dy="5.3" dx="0.80"> N</tspan></text>
<text x="98.7" y="519.5" font-size="16" text-anchor="middle" fill="#101010">70.1<tspan dy="-5.3" font-size="16.0">°</tspan><tspan dy="5.3" dx="0.80"> W</tspan></text>
<text x="190.5" y="519.5" font-size="16" text-anchor="middle" fill="#101010">69.9<tspan dy="-5.3" font-size="16.0">°</tspan><tspan dy="5.3" dx="0.80"> W</tspan></text>
<rect x="89.95" y="573.8" width="129.25" height="116.20000000000005" fill="#fff"/>
<path d="M124.5,580.0 L125.5,583.8 L128.8,581.2 L131.5,581.2 L134.2,582.3 L137.0,581.6 L139.7,582.5 L142.5,582.5 L145.3,582.3 L148.0,582.7 L150.7,583.8 L153.5,583.2 L156.2,583.8 L160.0,581.2 L163.3,581.2 L166.7,580.7 L170.0,580.5 L173.8,581.4 L177.5,582.5 L180.0,580.0 L183.1,580.5 L186.3,580.6 L189.3,581.9 L192.5,582.0 L195.4,582.0 L198.2,582.6 L201.0,582.7 L203.8,583.8 L205.3,586.1 L206.2,588.8 L205.1,591.7 L203.3,594.4 L202.5,597.5 L201.1,600.1 L199.8,602.7 L198.1,605.2 L196.2,607.5 L195.2,610.8 L195.9,614.2 L195.0,617.5 L195.7,620.9 L196.8,624.1 L197.5,627.5 L198.9,629.8 L200.8,631.8 L202.0,634.2 L203.8,636.2 L205.4,639.4 L207.0,642.5 L205.7,644.9 L204.3,647.3 L203.5,650.0 L202.5,652.5 L202.4,655.4 L202.1,658.2 L200.5,660.9 L200.6,663.8 L199.5,666.4 L198.7,669.0 L196.8,671.2 L196.2,674.0 L193.3,674.7 L190.4,675.5 L188.4,672.4 L186.0,669.6 L181.6,668.2 L178.4,669.7 L175.8,672.0 L172.2,672.8 L168.5,673.0 L164.8,672.9 L161.2,672.5 L156.2,672.0 L154.4,674.3 L153.3,677.0 L154.9,679.7 L155.3,682.9 L156.8,685.7 L154.9,687.6 L152.4,688.6 L150.0,687.4 L147.6,686.4 L145.0,685.7 L142.9,683.8 L140.4,682.4 L137.8,681.3 L136.4,679.1 L134.6,677.1 L133.1,674.9 L132.0,672.5 L130.6,670.0 L129.1,667.6 L127.6,665.2 L125.7,663.1 L125.1,660.1 L123.2,658.0 L122.2,654.8 L121.5,651.6 L120.3,648.5 L117.0,649.0 L113.8,648.8 L111.0,646.5 L108.8,643.8 L106.6,641.6 L105.3,638.9 L103.8,636.2 L102.6,633.4 L102.0,630.4 L101.2,627.5 L101.9,625.0 L103.3,622.6 L104.1,620.1 L104.5,617.5 L104.4,613.7 L105.0,610.0 L107.4,607.7 L110.0,605.5 L112.8,604.5 L115.9,604.5 L118.8,603.8 L121.5,603.0 L123.8,601.2 L121.6,599.6 L120.0,597.5 L121.1,595.1 L121.4,592.4 L122.5,590.0 L122.6,586.6 L124.1,583.4Z" fill="#ffff00" stroke="#0a0a0a" stroke-width="1.25" stroke-linejoin="round"/>
<line x1="102.6" y1="573.8" x2="102.6" y2="690.0" stroke="#c6c6c6" stroke-width="0.9" stroke-dasharray="1 2.3"/>
<line x1="154.6" y1="573.8" x2="154.6" y2="690.0" stroke="#c6c6c6" stroke-width="0.9" stroke-dasharray="1 2.3"/>
<line x1="206.4" y1="573.8" x2="206.4" y2="690.0" stroke="#c6c6c6" stroke-width="0.9" stroke-dasharray="1 2.3"/>
<line x1="89.95" y1="579.6" x2="219.2" y2="579.6" stroke="#c6c6c6" stroke-width="0.9" stroke-dasharray="1 2.3"/>
<line x1="89.95" y1="631.5" x2="219.2" y2="631.5" stroke="#c6c6c6" stroke-width="0.9" stroke-dasharray="1 2.3"/>
<line x1="89.95" y1="683.4" x2="219.2" y2="683.4" stroke="#c6c6c6" stroke-width="0.9" stroke-dasharray="1 2.3"/>
<rect x="89.95" y="573.8" width="129.25" height="116.20000000000005" fill="none" stroke="#222" stroke-width="1.8"/>
<text x="154.4" y="566.3" font-size="18.1" text-anchor="middle" fill="#111" >Suriname</text>
<text x="79.4" y="589.0" font-size="16" text-anchor="end" fill="#101010">6<tspan dy="-5.3" font-size="16.0">°</tspan><tspan dy="5.3" dx="0.80"> N</tspan></text>
<text x="79.4" y="640.6" font-size="16" text-anchor="end" fill="#101010">4<tspan dy="-5.3" font-size="16.0">°</tspan><tspan dy="5.3" dx="0.80"> N</tspan></text>
<text x="79.4" y="692.4" font-size="16" text-anchor="end" fill="#101010">2<tspan dy="-5.3" font-size="16.0">°</tspan><tspan dy="5.3" dx="0.80"> N</tspan></text>
<text x="105.1" y="716.8" font-size="16" text-anchor="middle" fill="#101010">58<tspan dy="-5.3" font-size="16.0">°</tspan><tspan dy="5.3" dx="0.80"> W</tspan></text>
<text x="208.5" y="716.8" font-size="16" text-anchor="middle" fill="#101010">54<tspan dy="-5.3" font-size="16.0">°</tspan><tspan dy="5.3" dx="0.80"> W</tspan></text>
<rect x="87.1" y="770.85" width="134.70000000000002" height="116.14999999999998" fill="#fff"/>
<path d="M114.6,829.2 L117.1,827.7 L119.6,826.2 L122.3,825.4 L124.9,824.5 L127.8,824.3 L130.4,823.3 L133.3,822.0 L136.3,821.3 L139.3,820.3 L142.0,820.4 L144.5,819.7 L147.2,819.8 L149.8,819.7 L152.4,819.1 L155.1,819.3 L158.0,818.7 L161.0,818.4 L163.9,817.8 L166.9,817.3 L169.9,817.5 L172.8,817.1 L175.8,817.3 L176.4,818.8 L174.8,820.6 L173.0,822.6 L171.1,824.5 L168.9,826.2 L167.9,828.6 L166.9,831.1 L166.9,834.1 L167.3,837.1 L167.5,840.0 L167.9,843.0 L167.6,846.3 L167.1,849.5 L166.9,852.8 L168.5,855.3 L169.6,858.0 L170.8,860.7 L169.7,863.6 L168.9,866.6 L168.9,869.6 L169.2,872.5 L169.3,875.5 L166.2,877.3 L162.9,878.5 L160.3,879.3 L157.8,880.0 L155.1,880.5 L152.3,880.8 L149.6,880.6 L146.8,881.2 L144.0,881.0 L141.3,881.4 L138.5,881.1 L135.7,881.7 L133.0,881.5 L130.2,881.4 L127.4,881.4 L124.7,882.1 L121.9,882.2 L119.1,882.2 L116.4,883.1 L113.6,883.2 L110.8,883.0 L108.1,883.1 L105.3,882.7 L102.6,882.3 L99.8,882.4 L96.9,883.6 L93.9,884.4 L92.7,882.6 L94.2,880.8 L96.6,879.4 L99.2,878.3 L101.8,877.5 L104.4,876.2 L106.9,874.6 L109.7,873.6 L111.9,872.0 L114.3,870.9 L116.6,869.6 L119.6,867.6 L122.6,866.9 L125.4,865.6 L128.4,864.7 L129.8,861.7 L131.4,858.8 L130.5,856.1 L129.4,853.5 L128.4,848.9 L128.3,845.9 L128.8,843.0 L128.9,840.0 L129.4,836.5 L130.4,833.1 L126.5,831.1 L121.5,830.2 L118.1,829.6Z" fill="#4DBEEE" stroke="#0a0a0a" stroke-width="1.3" stroke-linejoin="round"/>
<path d="M182.0,791.2 L185.0,787.5 L187.5,785.0 L190.0,782.5 L193.1,780.6 L196.2,778.8 L200.0,777.9 L203.8,777.0 L207.5,776.2 L209.5,778.8 L207.5,782.5 L204.5,784.5 L201.2,786.2 L198.7,787.2 L196.2,788.3 L193.8,789.5 L190.6,790.7 L187.5,792.0 L183.8,793.0Z" fill="#4DBEEE" stroke="#0a0a0a" stroke-width="1.2" stroke-linejoin="round"/>
<path d="M105.8,831.0 L107.3,829.6 L109.0,830.6 L107.6,832.4Z" fill="#111" stroke="#0a0a0a" stroke-width="0.5" stroke-linejoin="round"/>
<path d="M110.8,830.4 L112.2,829.2 L113.9,830.0 L113.2,831.4 L111.6,831.6Z" fill="#111" stroke="#0a0a0a" stroke-width="0.5" stroke-linejoin="round"/>
<line x1="128.0" y1="770.85" x2="128.0" y2="887.0" stroke="#c6c6c6" stroke-width="0.9" stroke-dasharray="1 2.3"/>
<line x1="168.75" y1="770.85" x2="168.75" y2="887.0" stroke="#c6c6c6" stroke-width="0.9" stroke-dasharray="1 2.3"/>
<line x1="209.5" y1="770.85" x2="209.5" y2="887.0" stroke="#c6c6c6" stroke-width="0.9" stroke-dasharray="1 2.3"/>
<line x1="87.1" y1="804.25" x2="221.8" y2="804.25" stroke="#c6c6c6" stroke-width="0.9" stroke-dasharray="1 2.3"/>
<line x1="87.1" y1="845.5" x2="221.8" y2="845.5" stroke="#c6c6c6" stroke-width="0.9" stroke-dasharray="1 2.3"/>
<rect x="87.1" y="770.85" width="134.70000000000002" height="116.14999999999998" fill="none" stroke="#222" stroke-width="1.8"/>
<line x1="87.1" y1="772.35" x2="87.1" y2="887.0" stroke="#fff" stroke-opacity="0.75" stroke-width="2.2" stroke-dasharray="0.6 1.9"/>
<line x1="87.1" y1="887.0" x2="220.3" y2="887.0" stroke="#fff" stroke-opacity="0.75" stroke-width="2.2" stroke-dasharray="0.6 1.9"/>
<text x="154.1" y="763.8" font-size="18.1" text-anchor="middle" fill="#111" >Trinidad &amp; Tobago</text>
<text x="77.2" y="801.9" font-size="16" text-anchor="end" fill="#101010">11.0<tspan dy="-5.3" font-size="16.0">°</tspan><tspan dy="5.3" dx="0.80"> N</tspan></text>
<text x="77.2" y="843.4" font-size="16" text-anchor="end" fill="#101010">10.5<tspan dy="-5.3" font-size="16.0">°</tspan><tspan dy="5.3" dx="0.80"> N</tspan></text>
<text x="77.2" y="885.6" font-size="16" text-anchor="end" fill="#101010">10.0<tspan dy="-5.3" font-size="16.0">°</tspan><tspan dy="5.3" dx="0.80"> N</tspan></text>
<text x="128.7" y="913.5" font-size="16" text-anchor="middle" fill="#101010">61.5<tspan dy="-5.3" font-size="16.0">°</tspan><tspan dy="5.3" dx="0.80"> W</tspan></text>
<text x="211.3" y="913.5" font-size="16" text-anchor="middle" fill="#101010">60.5<tspan dy="-5.3" font-size="16.0">°</tspan><tspan dy="5.3" dx="0.80"> W</tspan></text>
<path d="M371.25,436.25 L371.25,387.25 A49,49 0 1 0 414.19,459.86 Z" fill="#848484" stroke="#151515" stroke-width="1.05" stroke-linejoin="round"/>
<path d="M380.00,432.50 L422.94,456.11 A49,49 0 0 0 386.14,383.89 Z" fill="#f0f0f0" stroke="#151515" stroke-width="1.05" stroke-linejoin="round"/>
<path d="M376.60,429.00 L382.74,380.39 A49,49 0 0 0 376.60,380.00 Z" fill="#d9d5cf" stroke="#151515" stroke-width="1.05" stroke-linejoin="round"/>
<path d="M371.40,634.80 L371.40,585.60 A49.2,49.2 0 1 0 419.05,647.04 Z" fill="#848484" stroke="#151515" stroke-width="1.05" stroke-linejoin="round"/>
<path d="M380.00,629.50 L427.65,641.74 A49.2,49.2 0 0 0 380.00,580.30 Z" fill="#f0f0f0" stroke="#151515" stroke-width="1.05" stroke-linejoin="round"/>
<path d="M372.50,833.25 L372.50,784.25 A49,49 0 1 0 421.40,830.17 Z" fill="#848484" stroke="#151515" stroke-width="1.05" stroke-linejoin="round"/>
<path d="M379.50,825.00 L428.40,821.92 A49,49 0 0 0 379.50,776.00 Z" fill="#f0f0f0" stroke="#151515" stroke-width="1.05" stroke-linejoin="round"/>
<text x="296.8" y="376.3" font-size="16.25" text-anchor="start" fill="#101010" >Non-binary</text>
<text x="297" y="398" font-size="16.25" text-anchor="start" fill="#101010" >(2%)</text>
<text x="419.3" y="359.5" font-size="16.25" text-anchor="middle" fill="#101010" >Male</text>
<text x="421.3" y="381.3" font-size="16.25" text-anchor="middle" fill="#101010" >(31%)</text>
<text x="321.3" y="489.2" font-size="16.25" text-anchor="middle" fill="#101010" >Female</text>
<text x="323.7" y="511.7" font-size="16.25" text-anchor="middle" fill="#101010" >(67%)</text>
<text x="419.6" y="554.5" font-size="16.25" text-anchor="middle" fill="#101010" >Male</text>
<text x="420" y="576.3" font-size="16.25" text-anchor="middle" fill="#101010" >(29%)</text>
<text x="321.5" y="689.1" font-size="16.25" text-anchor="middle" fill="#101010" >Female</text>
<text x="321.5" y="711.2" font-size="16.25" text-anchor="middle" fill="#101010" >(71%)</text>
<text x="420" y="753" font-size="16.25" text-anchor="middle" fill="#101010" >Male</text>
<text x="420.2" y="775" font-size="16.25" text-anchor="middle" fill="#101010" >(24%)</text>
<text x="322.2" y="890.6" font-size="16.25" text-anchor="middle" fill="#101010" >Female</text>
<text x="321.8" y="912.6" font-size="16.25" text-anchor="middle" fill="#101010" >(76%)</text>
<rect x="518.3" y="375.5" width="159.4000000000001" height="117.5" fill="#fff" stroke="none"/>
<rect x="544.80" y="433.99" width="11.95" height="59.01" fill="#fff" stroke="#1a1a1a" stroke-width="0.8"/>
<rect x="556.75" y="382.36" width="11.95" height="110.64" fill="#fff" stroke="#1a1a1a" stroke-width="0.8"/>
<rect x="568.70" y="397.11" width="11.95" height="95.89" fill="#fff" stroke="#1a1a1a" stroke-width="0.8"/>
<rect x="580.65" y="456.12" width="11.95" height="36.88" fill="#fff" stroke="#1a1a1a" stroke-width="0.8"/>
<rect x="592.60" y="478.25" width="11.95" height="14.75" fill="#fff" stroke="#1a1a1a" stroke-width="0.8"/>
<rect x="604.55" y="485.62" width="11.95" height="7.38" fill="#fff" stroke="#1a1a1a" stroke-width="0.8"/>
<rect x="616.50" y="485.62" width="11.95" height="7.38" fill="#fff" stroke="#1a1a1a" stroke-width="0.8"/>
<rect x="628.45" y="485.62" width="11.95" height="7.38" fill="#fff" stroke="#1a1a1a" stroke-width="0.8"/>
<rect x="640.40" y="485.62" width="11.95" height="7.38" fill="#fff" stroke="#1a1a1a" stroke-width="0.8"/>
<rect x="652.35" y="485.62" width="11.95" height="7.38" fill="#fff" stroke="#1a1a1a" stroke-width="0.8"/>
<rect x="518.3" y="375.5" width="159.4000000000001" height="117.5" fill="none" stroke="#262626" stroke-width="0.9"/>
<path d="M518.30,493.0 v-2.2 M518.30,375.5 v2.2" stroke="#262626" stroke-width="0.8"/>
<text x="518.3" y="517.4" font-size="16" text-anchor="middle" fill="#101010" >15</text>
<path d="M584.55,493.0 v-2.2 M584.55,375.5 v2.2" stroke="#262626" stroke-width="0.8"/>
<text x="584.6" y="517.4" font-size="16" text-anchor="middle" fill="#101010" >20</text>
<path d="M650.80,493.0 v-2.2 M650.80,375.5 v2.2" stroke="#262626" stroke-width="0.8"/>
<text x="650.8" y="517.4" font-size="16" text-anchor="middle" fill="#101010" >25</text>
<path d="M518.3,493.00 h2.2 M677.7,493.00 h-2.2" stroke="#262626" stroke-width="0.8"/>
<text x="510.4" y="499.2" font-size="16" text-anchor="end" fill="#101010" >0</text>
<path d="M518.3,456.12 h2.2 M677.7,456.12 h-2.2" stroke="#262626" stroke-width="0.8"/>
<text x="510.4" y="462.3" font-size="16" text-anchor="end" fill="#101010" >5</text>
<path d="M518.3,419.24 h2.2 M677.7,419.24 h-2.2" stroke="#262626" stroke-width="0.8"/>
<text x="510.4" y="425.4" font-size="16" text-anchor="end" fill="#101010" >10</text>
<path d="M518.3,382.36 h2.2 M677.7,382.36 h-2.2" stroke="#262626" stroke-width="0.8"/>
<text x="510.4" y="388.6" font-size="16" text-anchor="end" fill="#101010" >15</text>
<text x="598.0" y="541.4" font-size="18.3" text-anchor="middle" fill="#101010" >Age (years)</text>
<text transform="translate(483.2,435.25) rotate(-90)" font-size="18.2" text-anchor="middle" fill="#101010"># Participants</text>
<rect x="518.3" y="573.3" width="159.4000000000001" height="117.40000000000009" fill="#fff" stroke="none"/>
<rect x="543.80" y="643.36" width="12.13" height="47.34" fill="#fff" stroke="#1a1a1a" stroke-width="0.8"/>
<rect x="555.93" y="596.02" width="12.13" height="94.68" fill="#fff" stroke="#1a1a1a" stroke-width="0.8"/>
<rect x="568.06" y="643.36" width="12.13" height="47.34" fill="#fff" stroke="#1a1a1a" stroke-width="0.8"/>
<rect x="580.19" y="643.36" width="12.13" height="47.34" fill="#fff" stroke="#1a1a1a" stroke-width="0.8"/>
<rect x="592.32" y="667.03" width="12.13" height="23.67" fill="#fff" stroke="#1a1a1a" stroke-width="0.8"/>
<rect x="604.45" y="667.03" width="12.13" height="23.67" fill="#fff" stroke="#1a1a1a" stroke-width="0.8"/>
<rect x="616.58" y="667.03" width="12.13" height="23.67" fill="#fff" stroke="#1a1a1a" stroke-width="0.8"/>
<rect x="640.84" y="667.03" width="12.13" height="23.67" fill="#fff" stroke="#1a1a1a" stroke-width="0.8"/>
<rect x="652.97" y="643.36" width="12.13" height="47.34" fill="#fff" stroke="#1a1a1a" stroke-width="0.8"/>
<rect x="518.3" y="573.3" width="159.4000000000001" height="117.40000000000009" fill="none" stroke="#262626" stroke-width="0.9"/>
<path d="M518.30,690.7 v-2.2 M518.30,573.3 v2.2" stroke="#262626" stroke-width="0.8"/>
<text x="518.3" y="714.8" font-size="16" text-anchor="middle" fill="#101010" >20</text>
<path d="M582.06,690.7 v-2.2 M582.06,573.3 v2.2" stroke="#262626" stroke-width="0.8"/>
<text x="582.1" y="714.8" font-size="16" text-anchor="middle" fill="#101010" >30</text>
<path d="M645.82,690.7 v-2.2 M645.82,573.3 v2.2" stroke="#262626" stroke-width="0.8"/>
<text x="645.8" y="714.8" font-size="16" text-anchor="middle" fill="#101010" >40</text>
<path d="M518.3,690.70 h2.2 M677.7,690.70 h-2.2" stroke="#262626" stroke-width="0.8"/>
<text x="510.4" y="696.9" font-size="16" text-anchor="end" fill="#101010" >0</text>
<path d="M518.3,643.36 h2.2 M677.7,643.36 h-2.2" stroke="#262626" stroke-width="0.8"/>
<text x="510.4" y="649.6" font-size="16" text-anchor="end" fill="#101010" >2</text>
<path d="M518.3,596.02 h2.2 M677.7,596.02 h-2.2" stroke="#262626" stroke-width="0.8"/>
<text x="510.4" y="602.2" font-size="16" text-anchor="end" fill="#101010" >4</text>
<text x="598.0" y="739.4" font-size="18.3" text-anchor="middle" fill="#101010" >Age (years)</text>
<text transform="translate(492.6,633.0) rotate(-90)" font-size="18.2" text-anchor="middle" fill="#101010"># Participants</text>
<rect x="518.3" y="770.0" width="159.4000000000001" height="117.79999999999995" fill="#fff" stroke="none"/>
<rect x="525.38" y="777.71" width="14.85" height="110.09" fill="#fff" stroke="#1a1a1a" stroke-width="0.8"/>
<rect x="540.23" y="873.12" width="14.85" height="14.68" fill="#fff" stroke="#1a1a1a" stroke-width="0.8"/>
<rect x="569.93" y="884.13" width="14.85" height="3.67" fill="#fff" stroke="#1a1a1a" stroke-width="0.8"/>
<rect x="629.33" y="884.13" width="14.85" height="3.67" fill="#fff" stroke="#1a1a1a" stroke-width="0.8"/>
<rect x="659.03" y="880.46" width="14.85" height="7.34" fill="#fff" stroke="#1a1a1a" stroke-width="0.8"/>
<rect x="518.3" y="770.0" width="159.4000000000001" height="117.79999999999995" fill="none" stroke="#262626" stroke-width="0.9"/>
<path d="M536.01,887.8 v-2.2 M536.01,770.0 v2.2" stroke="#262626" stroke-width="0.8"/>
<text x="536.0" y="911.8" font-size="16" text-anchor="middle" fill="#101010" >20</text>
<path d="M606.86,887.8 v-2.2 M606.86,770.0 v2.2" stroke="#262626" stroke-width="0.8"/>
<text x="606.9" y="911.8" font-size="16" text-anchor="middle" fill="#101010" >40</text>
<path d="M677.70,887.8 v-2.2 M677.70,770.0 v2.2" stroke="#262626" stroke-width="0.8"/>
<text x="677.7" y="911.8" font-size="16" text-anchor="middle" fill="#101010" >60</text>
<path d="M518.3,887.80 h2.2 M677.7,887.80 h-2.2" stroke="#262626" stroke-width="0.8"/>
<text x="510.4" y="894.0" font-size="16" text-anchor="end" fill="#101010" >0</text>
<path d="M518.3,851.10 h2.2 M677.7,851.10 h-2.2" stroke="#262626" stroke-width="0.8"/>
<text x="510.4" y="857.3" font-size="16" text-anchor="end" fill="#101010" >10</text>
<path d="M518.3,814.40 h2.2 M677.7,814.40 h-2.2" stroke="#262626" stroke-width="0.8"/>
<text x="510.4" y="820.6" font-size="16" text-anchor="end" fill="#101010" >20</text>
<path d="M518.3,777.71 h2.2 M677.7,777.71 h-2.2" stroke="#262626" stroke-width="0.8"/>
<text x="510.4" y="783.9" font-size="16" text-anchor="end" fill="#101010" >30</text>
<text x="598.0" y="935.2" font-size="18.3" text-anchor="middle" fill="#101010" >Age (years)</text>
<text transform="translate(483.2,829.9) rotate(-90)" font-size="18.2" text-anchor="middle" fill="#101010"># Participants</text>
</svg>
</body></html>
